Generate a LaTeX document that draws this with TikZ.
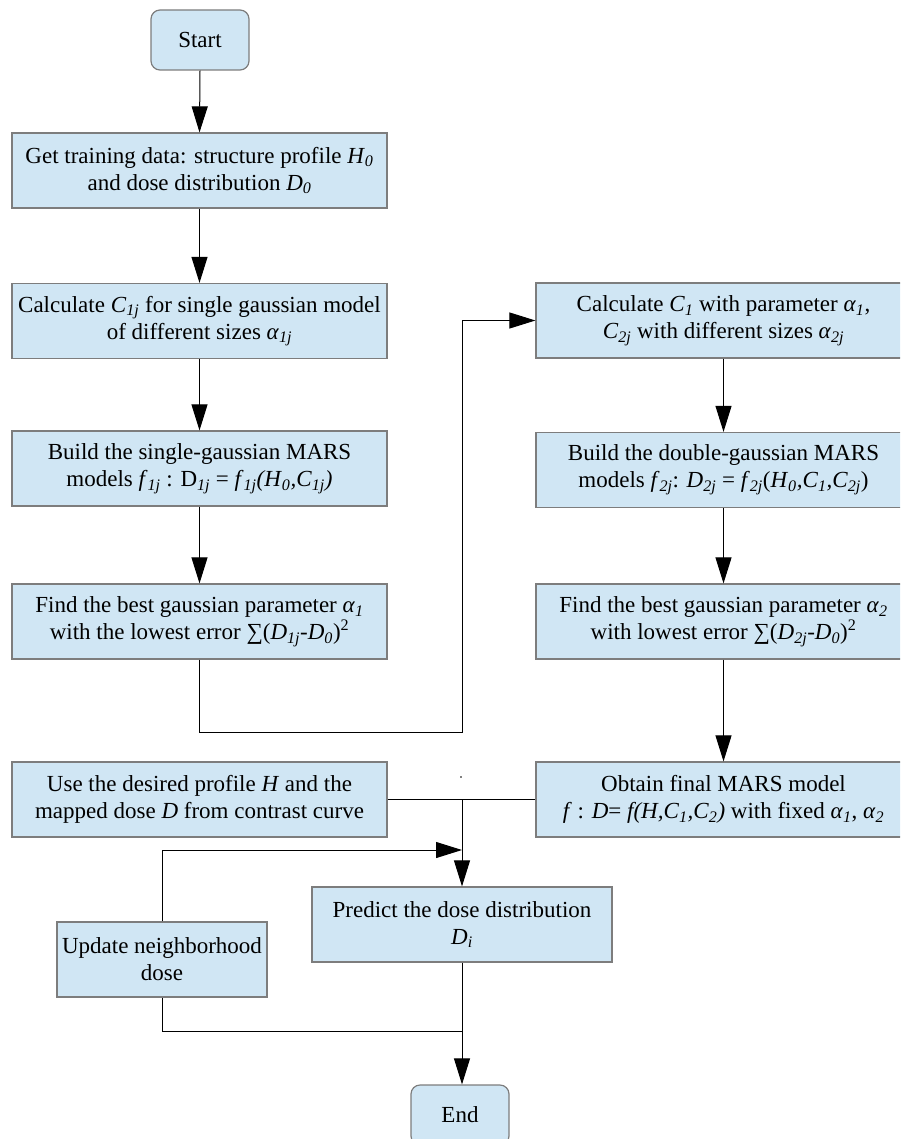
\documentclass[tikz,border=0pt]{standalone}
\usepackage{fontspec}
\setmainfont{Liberation Serif}
\usetikzlibrary{arrows.meta}
\newcommand{\mysub}[1]{\textsubscript{\textit{#1}}}
\definecolor{boxfill}{RGB}{208,230,244}
\definecolor{boxline}{RGB}{125,125,125}
\begin{document}
\begin{tikzpicture}[x=1pt,y=-1pt,
  box/.style={draw=boxline, fill=boxfill, line width=1.2pt, minimum width=375pt, minimum height=75pt, inner sep=0pt, align=center, font=\fontsize{23}{27}\selectfont},
  term/.style={box, rounded corners=9pt, minimum width=98pt, minimum height=60pt},
  conn/.style={line width=1pt, draw=black},
  arr/.style={conn, -{Triangle[length=26pt,width=16pt]}}]
\useasboundingbox (0,0) rectangle (900,1139);
\clip (0,0) rectangle (900,1139);

% nodes
\node[term] (start) at (200,40) {Start};
\node[box] (b1) at (199.5,170.5) {Get training data: structure profile \textit{H}\mysub{0}\\ and dose distribution \textit{D}\mysub{0}};
\node[box] (b2) at (199.5,321) {Calculate \textit{C}\mysub{1j} for single gaussian model\\ of different sizes \textit{α}\mysub{1j}};
\node[box] (b3) at (199.5,468.5) {Build the single-gaussian MARS\\ models \textit{f}\mysub{1j} : D\mysub{1j} = \textit{f}\mysub{1j}\textit{(H}\mysub{0}\textit{,C}\mysub{1j}\textit{)}};
\node[box] (b4) at (199.5,621.5) {Find the best gaussian parameter \textit{α}\mysub{1}\\ with the lowest error ∑(\textit{D}\mysub{1j}-\textit{D}\mysub{0})\textsuperscript{2}};

\node[box] (r1) at (723.5,320.5) {Calculate \textit{C}\mysub{1} with parameter \textit{α}\mysub{1},\\ \textit{C}\mysub{2j} with different sizes \textit{α}\mysub{2j}};
\node[box] (r2) at (723.5,470) {Build the double-gaussian MARS\\ models \textit{f}\mysub{2j}: \textit{D}\mysub{2j} = \textit{f}\mysub{2j}(\textit{H}\mysub{0}\textit{,C}\mysub{1}\textit{,C}\mysub{2j})};
\node[box] (r3) at (723.5,621.5) {Find the best gaussian parameter \textit{α}\mysub{2}\\ with lowest error ∑(\textit{D}\mysub{2j}-\textit{D}\mysub{0})\textsuperscript{2}};
\node[box] (r4) at (723.5,799.5) {Obtain final MARS model\\ \textit{f} : \textit{D}= \textit{f(H,C}\mysub{1}\textit{,C}\mysub{2}\textit{)} with fixed \textit{α}\mysub{1}, \textit{α}\mysub{2}};

\node[box] (use) at (199.5,799.5) {Use the desired profile \textit{H} and the\\ mapped dose \textit{D} from contrast curve};
\node[box, minimum width=300pt] (pred) at (462,924.5) {Predict the dose distribution\\ \textit{D}\mysub{i}};
\node[box, minimum width=210pt] (upd) at (162,959.5) {Update neighborhood\\ dose};
\node[term] (end) at (460,1115) {End};

% junction coordinates
\coordinate (j1) at (199.5,732);
\coordinate (j2) at (462,732);
\coordinate (j3) at (462,799.5);
\coordinate (j4) at (162,850);
\coordinate (j5) at (462,850);
\coordinate (j6) at (162,1031);
\coordinate (j7) at (462,1031);

% connectors
\draw[arr] (start.south) -- (b1.north);
\draw[arr] (b1) -- (b2);
\draw[arr] (b2) -- (b3);
\draw[arr] (b3) -- (b4);
\draw[arr] (b4.south) -- (j1) -- (j2) -- (j2 |- r1.west) -- (r1.west);
\draw[arr] (r1) -- (r2);
\draw[arr] (r2) -- (r3);
\draw[arr] (r3) -- (r4);
\draw[conn] (use.east) -- (r4.west);
\draw[arr] (j3) -- (pred.north);
\draw[arr] (upd.north) -- (j4) -- (j5);
\draw[conn] (upd.south) -- (j6) -- (j7);
\draw[arr] (pred.south) -- (pred.south |- end.north);
\fill (461,777) circle[radius=0.8pt];
\end{tikzpicture}
\end{document}
